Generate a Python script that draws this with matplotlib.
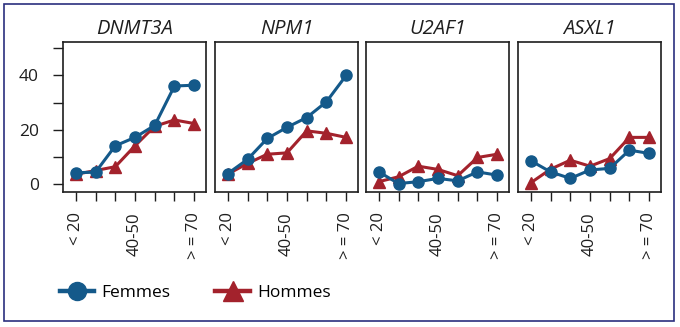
import matplotlib.pyplot as plt
from matplotlib.lines import Line2D
from matplotlib.patches import Rectangle

plt.rcParams['font.family'] = ['Open Sans', 'DejaVu Sans']

ages = [1, 2, 3, 4, 5, 6, 7]
age_labels = ['< 20', '', '', '40-50', '', '', '> = 70']

genes = ['DNMT3A', 'NPM1', 'U2AF1', 'ASXL1']
femmes = {
    'DNMT3A': [4.2, 4.4, 14.1, 17.2, 21.6, 36.1, 36.4],
    'NPM1':   [3.9, 9.1, 16.8, 20.9, 24.5, 30.3, 40.0],
    'U2AF1':  [4.5, 0.2, 0.9, 2.1, 1.2, 4.5, 3.3],
    'ASXL1':  [8.6, 4.5, 2.1, 5.2, 5.8, 12.5, 11.3],
}
hommes = {
    'DNMT3A': [3.6, 5.0, 6.4, 14.1, 21.3, 23.6, 22.3],
    'NPM1':   [3.7, 7.6, 11.0, 11.5, 19.6, 18.7, 17.2],
    'U2AF1':  [0.9, 2.7, 6.6, 5.4, 3.1, 9.8, 11.0],
    'ASXL1':  [0.5, 5.5, 8.8, 6.6, 9.4, 17.2, 17.2],
}

BLUE = '#14598a'
RED = '#a3222c'
INK = '#1e1e1e'
W, H = 680, 327

fig = plt.figure(figsize=(W / 100, H / 100), dpi=100)

# panel left edges in pixels
lefts = [63, 215, 366, 518]
pw = 143
top_px, bot_px = 42, 192

for i, g in enumerate(genes):
    ax = fig.add_axes([lefts[i] / W, 1 - bot_px / H, pw / W, (bot_px - top_px) / H])
    ax.plot(ages, femmes[g], color=BLUE, lw=2.2, marker='o', ms=8,
            zorder=3)
    ax.plot(ages, hommes[g], color=RED, lw=2.2, marker='^', ms=9,
            zorder=2)
    ax.set_xlim(0.35, 7.6)
    ax.set_ylim(-2.9, 52.3)
    ax.set_title(g, style='italic', fontsize=14.5, color=INK, pad=6)
    ax.set_xticks(ages)
    ax.set_xticklabels(age_labels, rotation=90, fontsize=12, color=INK)
    ax.tick_params(axis='x', length=6.5, width=1, pad=8, color=INK)
    for lab in ax.get_xticklabels():
        lab.set_verticalalignment('top')
    for s in ax.spines.values():
        s.set_linewidth(1.2)
        s.set_color(INK)
    if i == 0:
        ax.set_yticks([0, 10, 20, 30, 40, 50])
        ax.set_yticklabels(['0', '', '20', '', '40', ''], fontsize=12.5, color=INK)
        ax.tick_params(axis='y', length=7.5, width=1, pad=10, color=INK)
    else:
        ax.set_yticks([])

handles = [
    Line2D([], [], color=BLUE, lw=3.2, marker='o', ms=13),
    Line2D([], [], color=RED, lw=3.2, marker='^', ms=14),
]
fig.legend(handles, ['Femmes', 'Hommes'], loc='lower left',
           bbox_to_anchor=(44 / W, 10 / H), ncol=2, frameon=False,
           fontsize=12.5, handlelength=2.0, columnspacing=2.6,
           handletextpad=0.4)

fig.patches.append(Rectangle((4 / W, 6 / H), 670 / W, 317 / H,
                             transform=fig.transFigure, fill=False,
                             edgecolor='#2b2f7e', linewidth=1.2))

fig.savefig('out.png', dpi=100, facecolor='white')
